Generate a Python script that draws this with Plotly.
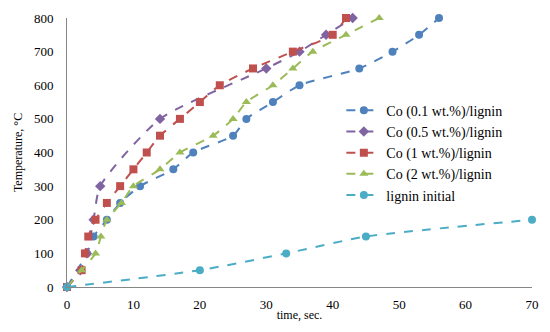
import plotly.graph_objects as go

# Data
names = ["Co (0.1 wt.%)/lignin", "Co (0.5 wt.%)/lignin", "Co (1 wt.%)/lignin",
         "Co (2 wt.%)/lignin", "lignin initial"]

t_01 = [0, 3, 4, 6, 8, 11, 16, 19, 25, 27, 31, 35, 44, 49, 53, 56]
T_01 = [0, 100, 150, 200, 250, 300, 350, 400, 450, 500, 550, 600, 650, 700, 750, 800]

t_05 = [0, 2, 3, 4, 5, 14, 30, 35, 39, 43]
T_05 = [0, 50, 100, 200, 300, 500, 650, 700, 750, 800]

t_1 = [0, 2.2, 2.7, 3.2, 4.3, 6, 8, 10, 12, 14, 17, 20, 23, 28, 34, 40, 42]
T_1 = [0, 50, 100, 150, 200, 250, 300, 350, 400, 450, 500, 550, 600, 650, 700, 750, 800]

t_2 = [0, 2.2, 4.3, 5.1, 6, 8.2, 10, 14, 17, 22, 25, 27, 31, 34, 37, 42, 47]
T_2 = [0, 50, 100, 150, 200, 250, 300, 350, 400, 450, 500, 550, 600, 650, 700, 750, 800]

t_lig = [0, 20, 33, 45, 70]
T_lig = [0, 50, 100, 150, 200]

x_ticks = [0, 10, 20, 30, 40, 50, 60, 70]
y_ticks = [0, 100, 200, 300, 400, 500, 600, 700, 800]

series = [
    (t_01, T_01, "#4F81BD", "circle", 8),
    (t_05, T_05, "#8064A2", "diamond", 8),
    (t_1, T_1, "#C0504D", "square", 8),
    (t_2, T_2, "#9BBB59", "triangle-up", 8),
    (t_lig, T_lig, "#4BACC6", "circle", 8),
]

fig = go.Figure()
for name, (x, y, c, sym, sz) in zip(names, series):
    fig.add_trace(go.Scatter(
        x=x, y=y, name=name, mode="lines+markers", cliponaxis=False,
        line=dict(color=c, width=2, dash="dash", shape="spline", smoothing=0.6),
        marker=dict(color=c, symbol=sym, size=sz),
    ))

font = "Liberation Serif, Times New Roman, serif"
fig.update_layout(
    width=550, height=332,
    margin=dict(l=67, r=11, t=11, b=45),
    paper_bgcolor="white", plot_bgcolor="white",
    font=dict(family=font, size=13, color="black"),
    showlegend=True,
    legend=dict(x=0.59, y=0.715, xanchor="left", yanchor="top",
                font=dict(family=font, size=14, color="black"),
                bgcolor="rgba(0,0,0,0)", tracegroupgap=0, itemwidth=35),
)
fig.update_xaxes(range=[0, 70], tickvals=x_ticks, showgrid=False, zeroline=False,
                 showline=True, linecolor="#868686", linewidth=1,
                 ticks="", ticklabelstandoff=5, tickfont=dict(family=font, size=13),
                 title=dict(text="time, sec.", font=dict(family=font, size=12), standoff=0))
fig.update_yaxes(range=[0, 800], tickvals=y_ticks, showgrid=False, zeroline=False,
                 showline=True, linecolor="#868686", linewidth=1,
                 ticks="", ticklabelstandoff=10, tickfont=dict(family=font, size=13),
                 title=dict(text="Temperature, °C", font=dict(family=font, size=12), standoff=8))

fig.write_html("out.html", config={"displayModeBar": False},
               post_script="document.body.style.margin='0';document.body.style.overflow='hidden';")
